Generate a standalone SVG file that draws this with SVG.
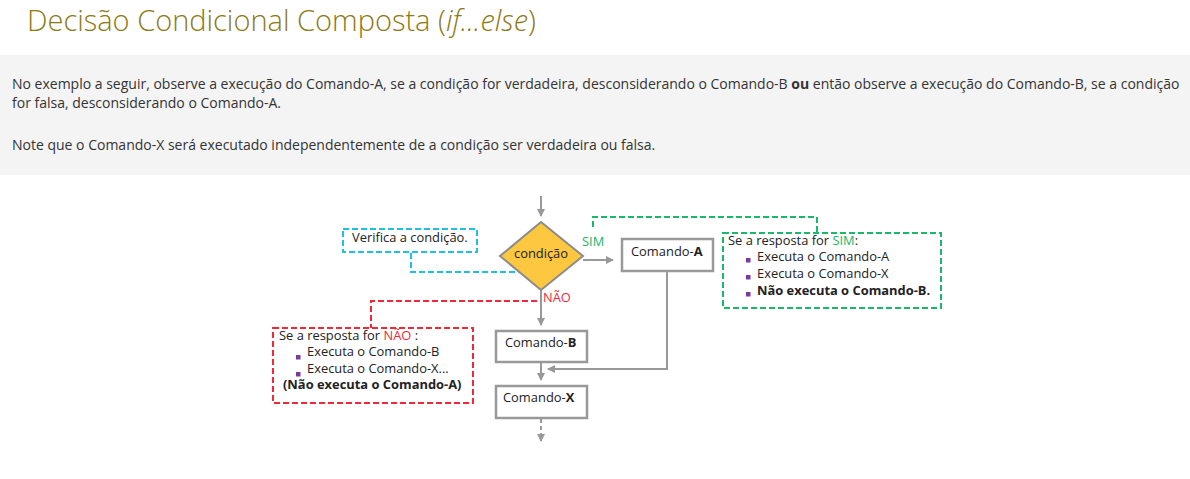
<svg xmlns="http://www.w3.org/2000/svg" width="1190" height="479" viewBox="0 0 1190 479">
<style>
text{font-family:"Open Sans","Liberation Sans",sans-serif;fill:#333}
.t{font-size:29px;font-weight:300;fill:#8c7a16}
.p{font-size:14px;fill:#333}
.d{font-size:12.9px;fill:#222}
.b{font-weight:bold}
.box{fill:#fff;stroke:#999;stroke-width:2.5}
.ln{fill:none;stroke:#999;stroke-width:2}
.cy{fill:none;stroke:#1ec0e8;stroke-width:2;stroke-dasharray:6 3}
.gr{fill:none;stroke:#19b86a;stroke-width:2;stroke-dasharray:6 3}
.rd{fill:none;stroke:#f0283a;stroke-width:2;stroke-dasharray:6 3}
.bul{fill:#7a3aa0}
</style>
<defs>
<marker id="ah" markerWidth="10" markerHeight="10" refX="7" refY="4" orient="auto" markerUnits="userSpaceOnUse">
<path d="M0,0 L8,4 L0,8 Z" fill="#999"/>
</marker>
</defs>
<rect width="1190" height="479" fill="#fff"/>
<text class="t" x="27" y="31">Decisão Condicional Composta (<tspan font-style="italic">if...else</tspan>)</text>
<rect x="0" y="55" width="1190" height="120" fill="#f4f4f4"/>
<text class="p" x="12" y="89">No exemplo a seguir, observe a execução do Comando-A, se a condição for verdadeira, desconsiderando o Comando-B <tspan class="b">ou</tspan> então observe a execução do Comando-B, se a condição</text>
<text class="p" x="12" y="108">for falsa, desconsiderando o Comando-A.</text>
<text class="p" x="12" y="150">Note que o Comando-X será executado independentemente de a condição ser verdadeira ou falsa.</text>

<g id="connectors">
<line class="ln" x1="541" y1="196" x2="541" y2="216" marker-end="url(#ah)"/>
<line class="ln" x1="583" y1="260" x2="613" y2="260" marker-end="url(#ah)"/>
<line class="ln" x1="541" y1="290" x2="541" y2="325" marker-end="url(#ah)"/>
<polyline class="ln" points="667,271 667,369 548,369" marker-end="url(#ah)"/>
<line class="ln" x1="541" y1="362" x2="541" y2="380" marker-end="url(#ah)"/>
<line class="ln" x1="541" y1="419" x2="541" y2="441" stroke-dasharray="4 3" marker-end="url(#ah)"/>
<polyline class="cy" points="411,253 411,272 522,272"/>
<polyline class="gr" points="593,227 593,217 817,217 817,233"/>
<polyline class="rd" points="537,301 371,301 371,328"/>
<text class="d" x="582" y="246" style="fill:#19b36b">SIM</text>
<text class="d" x="543" y="302" style="fill:#f0283a">NÃO</text>
</g>

<g id="condicao">
<polygon points="541,222 583,256 541,290 500,256" fill="#fdc73f" stroke="#8c8c8c" stroke-width="2"/>
<text class="d" x="541" y="258" text-anchor="middle">condição</text>
</g>

<g id="comandoA">
<rect class="box" x="622" y="239" width="91" height="32"/>
<text class="d" x="631" y="256">Comando-<tspan class="b">A</tspan></text>
</g>

<g id="comandoB">
<rect class="box" x="496" y="331" width="91" height="31"/>
<text class="d" x="505" y="347">Comando-<tspan class="b">B</tspan></text>
</g>

<g id="comandoX">
<rect class="box" x="496" y="386" width="91" height="32"/>
<text class="d" x="503" y="402">Comando-<tspan class="b">X</tspan></text>
</g>

<g id="nota-verifica">
<rect class="cy" x="343" y="229" width="134" height="23"/>
<text class="d" x="352" y="242">Verifica a condição.</text>
</g>

<g id="nota-sim">
<rect class="gr" x="723" y="233" width="218" height="75"/>
<text class="d" x="728" y="245">Se a resposta for <tspan style="fill:#19b36b">SIM</tspan>:</text>
<rect class="bul" x="746" y="258" width="4.5" height="4.5"/>
<text class="d" x="757" y="261">Executa o Comando-A</text>
<rect class="bul" x="746" y="275" width="4.5" height="4.5"/>
<text class="d" x="757" y="278">Executa o Comando-X</text>
<rect class="bul" x="746" y="292" width="4.5" height="4.5"/>
<text class="d b" x="757" y="295">Não executa o Comando-B.</text>
</g>

<g id="nota-nao">
<rect class="rd" x="273" y="328" width="200" height="75"/>
<text class="d" x="279" y="340">Se a resposta for <tspan style="fill:#f0283a">NÃO</tspan> :</text>
<rect class="bul" x="296" y="355" width="4.5" height="4.5"/>
<text class="d" x="307" y="356">Executa o Comando-B</text>
<rect class="bul" x="296" y="372" width="4.5" height="4.5"/>
<text class="d" x="307" y="373">Executa o Comando-X...</text>
<text class="d b" x="283" y="389">(Não executa o Comando-A)</text>
</g>
</svg>
